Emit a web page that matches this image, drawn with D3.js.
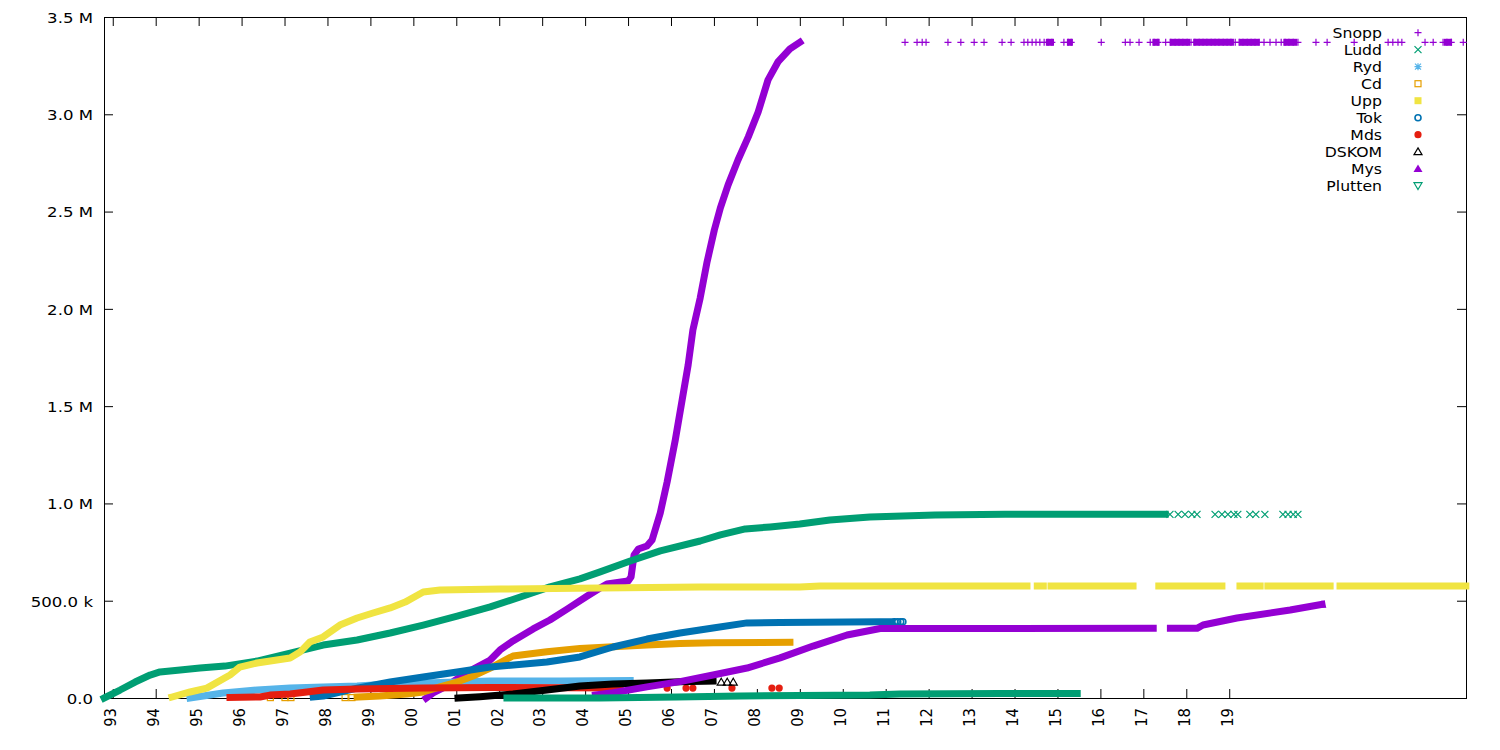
<!DOCTYPE html>
<html><head><meta charset="utf-8">
<script src="https://cdn.jsdelivr.net/npm/d3@7"></script>
<style>body{margin:0;background:#fff}svg{display:block}</style>
</head><body><svg id="c" width="1500" height="750"></svg>
<script>
// ---------------- data ----------------
const xTickYears = [1993,1994,1995,1996,1997,1998,1999,2000,2001,2002,2003,2004,2005,2006,2007,2008,2009,2010,2011,2012,2013,2014,2015,2016,2017,2018,2019];
const xTickLabels = ["93","94","95","96","97","98","99","00","01","02","03","04","05","06","07","08","09","10","11","12","13","14","15","16","17","18","19"];
const yTickValues = [0,500,1000,1500,2000,2500,3000,3500]; // thousands
const yTickLabels = ["0.0","500.0 k","1.0 M","1.5 M","2.0 M","2.5 M","3.0 M","3.5 M"];
const seriesNames = ["Snopp","Ludd","Ryd","Cd","Upp","Tok","Mds","DSKOM","Mys","Plutten"];
const xDomain = [1992.796, 2024.514];
const yDomain = [0, 3500];

// [decimal year, value in thousands]
const snoppTrail = [[2000.30,0],[2000.46,26],[2000.74,57],[2001.09,108],[2001.44,154],[2001.79,195],[2002.02,247],[2002.32,293],[2002.79,355],[2003.18,401],[2003.58,457],[2004.05,524],[2004.35,565],[2004.51,586],[2005.00,601],[2005.07,622],[2005.14,735],[2005.24,766],[2005.44,781],[2005.56,812],[2005.75,951],[2005.91,1110],[2006.10,1326],[2006.26,1532],[2006.40,1712],[2006.51,1891],[2006.68,2056],[2006.84,2241],[2007.01,2406],[2007.15,2519],[2007.33,2637],[2007.56,2765],[2007.80,2884],[2008.03,3012],[2008.26,3177],[2008.49,3269],[2008.77,3336],[2009.00,3370]];
const snoppPlateau = 3370;
const snoppRuns = [[2014.73,2014.92],[2015.22,2015.36],[2017.21,2017.38],[2017.61,2018.09],[2018.16,2019.11],[2019.23,2019.70],[2020.26,2020.58],[2024.00,2024.19]];
const snoppMarks = [2011.45,2011.73,2011.85,2011.94,2012.45,2012.75,2013.06,2013.29,2013.71,2013.92,2014.22,2014.31,2014.41,2014.50,2014.59,2014.69,2014.78,2014.87,2015.15,2015.25,2015.32,2016.02,2016.58,2016.69,2016.90,2017.16,2017.25,2017.34,2017.52,2017.64,2017.74,2017.83,2017.92,2018.02,2018.11,2018.20,2018.30,2018.39,2018.48,2018.58,2018.67,2018.76,2018.86,2018.95,2019.04,2019.14,2019.23,2019.32,2019.42,2019.51,2019.60,2019.70,2019.81,2019.95,2020.09,2020.21,2020.30,2020.39,2020.49,2020.60,2021.02,2021.28,2021.91,2022.70,2022.81,2022.93,2023.02,2023.56,2023.75,2023.98,2024.07,2024.17,2024.45];

const luddTrail = [[1992.80,0],[1993.17,41],[1993.52,82],[1993.87,118],[1994.10,134],[1994.57,144],[1995.03,154],[1995.61,164],[1996.36,190],[1997.13,231],[1997.90,272],[1998.69,298],[1999.46,334],[2000.23,375],[2001.02,421],[2001.79,468],[2002.49,519],[2003.18,571],[2003.88,612],[2004.35,648],[2005.05,704],[2005.75,756],[2006.68,807],[2007.15,838],[2007.73,869],[2008.31,879],[2009.00,894],[2009.70,915],[2010.63,930],[2012.15,941],[2013.78,944],[2017.51,944]];
const luddPlateau = 944;
const luddMarks = [2017.62,2017.81,2017.97,2018.13,2018.25,2018.67,2018.83,2018.97,2019.11,2019.20,2019.48,2019.62,2019.83,2020.25,2020.37,2020.49,2020.60];

const rydTrail = [[1994.80,0],[1995.57,26],[1996.36,41],[1997.13,51],[1997.90,57],[1998.69,62],[1999.46,72],[2000.23,77],[2001.02,82],[2001.79,87],[2003.42,87],[2005.05,90]];

const cdMarks = [[1996.67,2],[1997.01,2],[1997.15,2],[1998.41,2],[1998.57,2]];
const cdTrail = [[1998.69,5],[1999.22,10],[1999.85,21],[2000.23,31],[2000.62,57],[2001.02,82],[2001.39,113],[2001.79,154],[2002.32,216],[2003.11,238],[2003.88,255],[2004.65,264],[2005.44,272],[2006.21,280],[2006.98,284],[2008.77,286]];

const uppTrail = [[1994.38,5],[1994.80,31],[1995.19,51],[1995.73,118],[1995.96,159],[1996.36,180],[1997.13,206],[1997.36,236],[1997.59,288],[1997.90,314],[1998.29,375],[1998.69,411],[1999.06,437],[1999.46,463],[1999.81,493],[2000.23,545],[2000.62,555],[2002.02,560],[2004.35,565],[2006.68,571],[2009.00,571],[2009.47,576],[2014.29,576],null,[2014.53,576],[2014.67,576],null,[2014.85,576],[2016.06,576],null,[2016.22,576],[2016.76,576],null,[2017.36,576],[2018.83,576],null,[2019.25,576],[2019.72,576],null,[2019.90,576],[2020.44,576],null,[2020.53,576],[2021.35,576],null,[2021.58,576],[2022.28,576],null,[2022.35,576],[2024.51,576]];

const tokTrail = [[1997.67,5],[1997.90,10],[1998.69,51],[1999.46,82],[2000.23,108],[2001.02,134],[2001.79,159],[2003.11,185],[2003.88,211],[2004.65,262],[2005.44,303],[2006.21,334],[2006.98,360],[2007.77,386],[2008.54,388],[2010.87,392],[2011.14,392]];
const tokMarks = [[2011.21,392],[2011.28,392],[2011.35,392],[2011.40,392]];

const mdsTrail = [[1995.73,3],[1996.43,5],[1996.66,15],[1997.13,21],[1997.52,31],[1997.90,41],[1998.69,46],[2000.23,51],[2001.79,54],[2004.82,51]];
const mdsMarks = [[2005.91,51],[2006.35,51],[2006.51,51],[2007.42,51],[2008.35,51],[2008.52,51]];

const dskomTrail = [[2001.04,0],[2001.55,7],[2002.32,21],[2003.11,41],[2003.88,62],[2004.65,72],[2005.44,77],[2006.21,84],[2006.98,87]];
const dskomMarks = [[2007.17,82],[2007.31,82],[2007.45,82]];

const mysTrail = [[2004.24,15],[2004.65,27],[2005.44,57],[2006.21,84],[2006.98,118],[2007.77,154],[2008.54,206],[2009.31,267],[2010.10,324],[2010.87,357],[2017.23,358],null,[2017.63,358],[2018.25,358],[2018.39,375],[2019.18,411],[2020.42,452],[2021.16,481]];
const mysMarks = [[2021.16,481]];

const pluttenTrail = [[2002.18,0],[2004.35,0],[2006.14,5],[2007.61,10],[2009.00,13],[2010.63,15],[2011.33,21],[2013.66,23],[2015.46,23]];

// ---------------- styles ----------------
const colors = {Snopp:"#9400d3",Ludd:"#009e73",Ryd:"#56b4e9",Cd:"#e69f00",Upp:"#f0e442",Tok:"#0072b2",Mds:"#e51e10",DSKOM:"#000000",Mys:"#9400d3",Plutten:"#009e73"};
const markerType = {Snopp:"plus",Ludd:"cross",Ryd:"star",Cd:"openSquare",Upp:"filledSquare",Tok:"openCircle",Mds:"filledCircle",DSKOM:"openTriangle",Mys:"filledTriangle",Plutten:"openInvTriangle"};
const FONT = "DejaVu Sans", FS = 14, SX = 1.12, TFS = 14.8, TSX = 1.12;

const svg = d3.select("#c");
const M = {l:104, r:1466, t:17, b:698};
const x = d3.scaleLinear().domain(xDomain).range([M.l, M.r]);
const y = d3.scaleLinear().domain(yDomain).range([M.b, M.t]);

// axes
const tick = 9;
const gx = svg.append("g").attr("transform", `translate(0,${M.b})`)
  .call(d3.axisBottom(x).tickValues(xTickYears).tickSizeInner(-tick).tickSizeOuter(0)
        .tickFormat((d,i)=>xTickLabels[i]));
gx.selectAll("text").attr("x",0).attr("y",0).attr("dy","2.5px")
  .attr("transform",`translate(0,10) scale(${TSX},1) rotate(-90)`).style("text-anchor","end");
const gy = svg.append("g").attr("transform", `translate(${M.l},0)`)
  .call(d3.axisLeft(y).tickValues(yTickValues).tickSizeInner(-tick).tickSizeOuter(0)
        .tickFormat((d,i)=>yTickLabels[i]));
gy.selectAll("text").attr("x",0).attr("dy","0.36em")
  .attr("transform",`translate(-11,0) scale(${TSX},1)`).style("text-anchor","end");
svg.append("g").attr("transform", `translate(0,${M.t})`)
  .call(d3.axisTop(x).tickValues(xTickYears).tickSizeInner(-tick).tickSizeOuter(0).tickFormat(""));
svg.append("g").attr("transform", `translate(${M.r},0)`)
  .call(d3.axisRight(y).tickValues(yTickValues).tickSizeInner(-tick).tickSizeOuter(0).tickFormat(""));
svg.selectAll(".domain").remove();
svg.selectAll(".tick line").attr("stroke","#000").attr("stroke-width",1);
svg.selectAll(".tick text").attr("font-family",FONT).attr("font-size",TFS).attr("fill","#000");
svg.append("rect").attr("x",M.l+0.5).attr("y",M.t+0.5).attr("width",M.r-M.l).attr("height",M.b-M.t)
  .attr("fill","none").attr("stroke","#000").attr("stroke-width",1);

const plot = svg.append("g");
const line = d3.line().defined(d => d !== null).x(d => x(d[0])).y(d => y(d[1]));
function trail(data, color) {
  plot.append("path").attr("d", line(data)).attr("fill","none").attr("stroke",color)
    .attr("stroke-width",7).attr("stroke-linejoin","round").attr("stroke-linecap","square");
}
function marker(g, type, cx, cy, color) {
  const s = 3.5;
  switch (type) {
    case "plus": g.append("path").attr("d",`M${cx-s},${cy}H${cx+s}M${cx},${cy-s}V${cy+s}`).attr("stroke",color).attr("stroke-width",1.2).attr("fill","none"); break;
    case "cross": g.append("path").attr("d",`M${cx-s},${cy-s}L${cx+s},${cy+s}M${cx-s},${cy+s}L${cx+s},${cy-s}`).attr("stroke",color).attr("stroke-width",1.2).attr("fill","none"); break;
    case "star": g.append("path").attr("d",`M${cx-s},${cy}H${cx+s}M${cx},${cy-s}V${cy+s}M${cx-3},${cy-3}L${cx+3},${cy+3}M${cx-3},${cy+3}L${cx+3},${cy-3}`).attr("stroke",color).attr("stroke-width",1.2).attr("fill","none"); break;
    case "openSquare": g.append("rect").attr("x",cx-3).attr("y",cy-3).attr("width",6).attr("height",6).attr("stroke",color).attr("stroke-width",1.2).attr("fill","none"); break;
    case "filledSquare": g.append("rect").attr("x",cx-3.5).attr("y",cy-3.5).attr("width",7).attr("height",7).attr("fill",color); break;
    case "openCircle": g.append("circle").attr("cx",cx).attr("cy",cy).attr("r",3).attr("stroke",color).attr("stroke-width",1.6).attr("fill","none"); break;
    case "filledCircle": g.append("circle").attr("cx",cx).attr("cy",cy).attr("r",3.6).attr("fill",color); break;
    case "openTriangle": g.append("path").attr("d",`M${cx},${cy-3.8}L${cx+4},${cy+3}L${cx-4},${cy+3}Z`).attr("stroke",color).attr("stroke-width",1.2).attr("fill","none"); break;
    case "filledTriangle": g.append("path").attr("d",`M${cx},${cy-4.2}L${cx+4.5},${cy+3.4}L${cx-4.5},${cy+3.4}Z`).attr("fill",color); break;
    case "openInvTriangle": g.append("path").attr("d",`M${cx},${cy+3.8}L${cx+4},${cy-3}L${cx-4},${cy-3}Z`).attr("stroke",color).attr("stroke-width",1.2).attr("fill","none"); break;
  }
}
function marks(data, name) { data.forEach(d => marker(plot, markerType[name], x(d[0]), y(d[1]), colors[name])); }

// Snopp
trail(snoppTrail, colors.Snopp);
plot.selectAll(null).data(snoppRuns).enter().append("path")
  .attr("d", r => line([[r[0],snoppPlateau],[r[1],snoppPlateau]]))
  .attr("fill","none").attr("stroke",colors.Snopp).attr("stroke-width",7);
marks(snoppMarks.map(t => [t, snoppPlateau]), "Snopp");
// Ludd
trail(luddTrail, colors.Ludd);
marks(luddMarks.map(t => [t, luddPlateau]), "Ludd");
// Ryd
trail(rydTrail, colors.Ryd);
// Cd
marks(cdMarks, "Cd");
trail(cdTrail, colors.Cd);
// Upp
trail(uppTrail, colors.Upp);
// Tok
trail(tokTrail, colors.Tok);
marks(tokMarks, "Tok");
// Mds
trail(mdsTrail, colors.Mds);
marks(mdsMarks, "Mds");
// DSKOM
trail(dskomTrail, colors.DSKOM);
marks(dskomMarks, "DSKOM");
// Mys
trail(mysTrail, colors.Mys);
marks(mysMarks, "Mys");
// Plutten
trail(pluttenTrail, colors.Plutten);

// legend
const leg = svg.append("g");
seriesNames.forEach((n, i) => {
  const ly = 32.7 + i * 17.0;
  leg.append("text").attr("transform",`translate(1382,${ly}) scale(${SX},1)`)
    .attr("dy","0.36em").attr("text-anchor","end").attr("font-family",FONT).attr("font-size",FS).text(n);
  marker(leg, markerType[n], 1418, ly, colors[n]);
});
</script></body></html>
